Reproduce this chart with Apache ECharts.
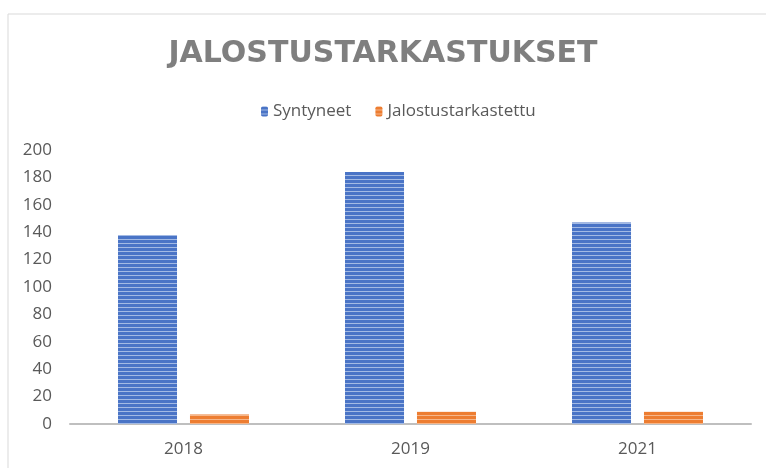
<!DOCTYPE html>
<html>
<head>
<meta charset="utf-8">
<script src="https://cdn.jsdelivr.net/npm/echarts@6/dist/echarts.min.js"></script>
<style>
html, body { margin: 0; padding: 0; background: #fff; }
#main { width: 766px; height: 468px; }
</style>
</head>
<body>
<div id="main"></div>
<script>
// data
var years = ['2018', '2019', '2021'];
var syntyneet = [138, 184, 147];
var jalostustarkastettu = [7, 9, 9];
var seriesNames = ['Syntyneet', 'Jalostustarkastettu'];

// horizontal stripes like the excel fill
function stripes(dark, light) {
    var c = document.createElement('canvas');
    c.width = 4; c.height = 4;
    var ctx = c.getContext('2d');
    ctx.fillStyle = dark;
    ctx.fillRect(0, 0, 4, 4);
    ctx.fillStyle = light;
    ctx.fillRect(0, 3, 4, 1);
    return { image: c, repeat: 'repeat' };
}

var myChart = echarts.init(document.getElementById('main'));
var option = {
    backgroundColor: '#fff',
    animation: false,
    title: {
        text: 'JALOSTUSTARKASTUKSET',
        left: 'center',
        top: 34,
        textStyle: {
            fontFamily: 'DejaVu Sans',
            fontWeight: 'bold',
            fontSize: 30,
            color: '#7f7f7f'
        }
    },
    legend: {
        data: seriesNames,
        top: 98,
        left: 256,
        itemWidth: 7,
        itemHeight: 10,
        itemGap: 24,
        textStyle: { fontFamily: 'Open Sans', fontSize: 17, color: '#595959' }
    },
    graphic: [
        { type: 'line', shape: { x1: 8, y1: 14, x2: 766, y2: 14 }, style: { stroke: '#d9d9d9', lineWidth: 1 } },
        { type: 'line', shape: { x1: 8, y1: 14, x2: 8, y2: 468 }, style: { stroke: '#d9d9d9', lineWidth: 1 } }
    ],
    grid: { left: 70, right: 15, top: 150, bottom: 44 },
    xAxis: {
        type: 'category',
        data: years,
        axisTick: { show: false },
        axisLine: { lineStyle: { color: '#bfbfbf', width: 2 } },
        axisLabel: { margin: 17, fontFamily: 'Open Sans', fontSize: 17, color: '#595959' }
    },
    yAxis: {
        type: 'value',
        min: 0,
        max: 200,
        interval: 20,
        splitLine: { show: false },
        axisLine: { show: false },
        axisTick: { show: false },
        axisLabel: { margin: 18, fontFamily: 'Open Sans', fontSize: 17, color: '#595959' }
    },
    series: [
        {
            name: seriesNames[0],
            type: 'bar',
            barWidth: 59,
            barGap: '22%',
            data: syntyneet,
            itemStyle: { color: stripes('#4a74c6', '#a3bae4') }
        },
        {
            name: seriesNames[1],
            type: 'bar',
            barWidth: 59,
            data: jalostustarkastettu,
            itemStyle: { color: stripes('#ed7d31', '#f6b68a') }
        }
    ]
};
myChart.setOption(option);
</script>
</body>
</html>
